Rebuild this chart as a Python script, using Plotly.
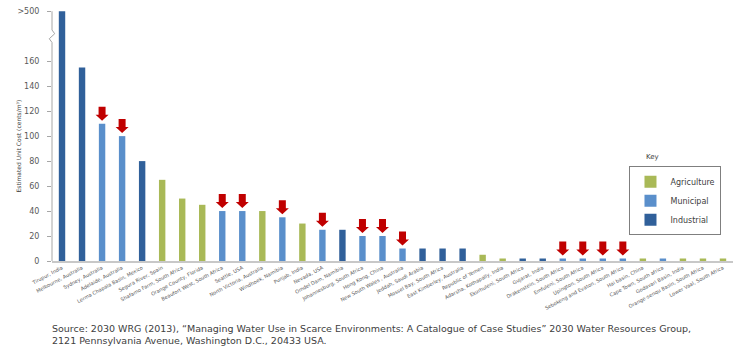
import plotly.graph_objects as go

# ---------------- data ----------------
categories = [
    "Tirupur, India", "Melbourne, Australia", "Sydney, Australia", "Adelaide, Australia",
    "Lerma Chapala Basin, Mexico", "Segura River, Spain", "Shafamo Farm, South Africa",
    "Orange County, Florida", "Beaufort West, South Africa", "Seattle, USA",
    "North Victoria, Australia", "Windhoek, Namibia", "Punjab, India", "Nevada, USA",
    "Omdel Dam, Namibia", "Johannesburg, South Africa", "Hong Kong, China",
    "New South Wales , Australia", "Jeddah, Saudi Arabia", "Mossel Bay, South Africa",
    "East Kimberley, Australia", "Republic of Yemen", "Adarsha, Kothapally, India",
    "Ekurhuleni, South Africa", "Gujarat, India", "Drakenstein, South Africa",
    "Emfuleni, South Africa", "Upington, South Africa", "Sebokeng and Evaton, South Africa",
    "Hai basin, China", "Cape Town, South africa", "Godavari Basin, India",
    "Orange-senqu Basin, South Africa", "Lower Vaal, South Africa",
]
values = [500, 155, 110, 100, 80, 65, 50, 45, 40, 40, 40, 35, 30, 25, 25, 20, 20,
          10, 10, 10, 10, 5, 2, 2, 2, 2, 2, 2, 2, 2, 2, 2, 2, 2]
sectors = ["Industrial", "Industrial", "Municipal", "Municipal", "Industrial",
           "Agriculture", "Agriculture", "Agriculture", "Municipal", "Municipal",
           "Agriculture", "Municipal", "Agriculture", "Municipal", "Industrial",
           "Municipal", "Municipal", "Municipal", "Industrial", "Industrial",
           "Industrial", "Agriculture", "Agriculture", "Industrial", "Industrial",
           "Municipal", "Municipal", "Municipal", "Municipal", "Agriculture",
           "Municipal", "Agriculture", "Agriculture", "Agriculture"]
flagged = ["Sydney, Australia", "Adelaide, Australia", "Beaufort West, South Africa",
           "Seattle, USA", "Windhoek, Namibia", "Nevada, USA",
           "Johannesburg, South Africa", "Hong Kong, China", "New South Wales , Australia",
           "Drakenstein, South Africa", "Emfuleni, South Africa", "Upington, South Africa",
           "Sebokeng and Evaton, South Africa"]
sector_order = ["Agriculture", "Municipal", "Industrial"]
y_ticks = [0, 20, 40, 60, 80, 100, 120, 140, 160]
break_label = ">500"

# ---------------- style ----------------
colors = {"Agriculture": "#a9b957", "Municipal": "#5a8fcb", "Industrial": "#30609a"}
FONT = "DejaVu Sans"
BREAK_AT = 200          # display position of the broken-axis top value
TEXT_GREY = "#595959"

def shown(v):
    return min(v, BREAK_AT)

fig = go.Figure()
for s in sector_order:
    xs = [c for c, sec in zip(categories, sectors) if sec == s]
    ys = [shown(v) for v, sec in zip(values, sectors) if sec == s]
    real = [v for v, sec in zip(values, sectors) if sec == s]
    fig.add_trace(go.Bar(
        x=xs, y=ys, name=s, marker_color=colors[s], marker_line_width=0,
        customdata=real, hovertemplate="%{x}: %{customdata}<extra>" + s + "</extra>",
    ))

# red down-arrows above flagged bars (pixel-sized, anchored at bar tops)
arrow_path = "M 0,3 L -6.5,9 L -3.5,9 L -3.5,17 L 3.5,17 L 3.5,9 L 6.5,9 Z"
shapes = []
for c, v in zip(categories, values):
    if c in flagged:
        shapes.append(dict(type="path", xref="x", yref="y", xsizemode="pixel",
                           ysizemode="pixel", xanchor=c, yanchor=shown(v),
                           path=arrow_path, fillcolor="#c00000", line_width=0))

# y-axis line with a break
shapes.append(dict(type="path", xref="paper", yref="y",
                   path="M 0,0 L 0,175 L -0.004,178 L 0.004,182 L 0,185 L 0,%d" % BREAK_AT,
                   line=dict(color="#a6a6a6", width=1)))

fig.update_layout(
    width=742, height=346,
    margin=dict(l=52, r=9, t=5, b=85),
    plot_bgcolor="white", paper_bgcolor="white",
    barmode="overlay", bargap=0.68,
    font=dict(family=FONT, color=TEXT_GREY),
    showlegend=True,
    legend=dict(x=0.848, y=0.37, xanchor="left", yanchor="top",
                bordercolor="#7f7f7f", borderwidth=1, bgcolor="white",
                font=dict(size=8, color="#404040", family=FONT),
                traceorder="normal"),
    shapes=shapes,
)
fig.update_xaxes(
    type="category", categoryorder="array", categoryarray=categories,
    tickmode="linear", dtick=1, tickangle=-28,
    tickfont=dict(size=5, color=TEXT_GREY), ticks="",
    showline=True, linecolor="#c8c8c8", linewidth=2, showgrid=False,
    range=[-0.5, len(categories) - 0.5],
)
fig.update_yaxes(
    range=[0, 205], tickmode="array",
    tickvals=y_ticks + [BREAK_AT],
    ticktext=[str(t) for t in y_ticks] + [break_label],
    ticks="outside", ticklen=4, tickcolor="#a6a6a6", ticklabelstandoff=6,
    tickfont=dict(size=8, color=TEXT_GREY),
    showline=False, showgrid=False, zeroline=False,
)

fig.add_annotation(text="Estimated Unit Cost (cents/m³)", textangle=-90,
                   xref="paper", yref="paper", x=-0.057, y=0.45,
                   showarrow=False, font=dict(size=6, color="#404040"))
fig.add_annotation(text="Key", xref="paper", yref="paper", x=0.87, y=0.382,
                   xanchor="left", yanchor="bottom", showarrow=False,
                   font=dict(size=7, color="#404040"))
fig.add_annotation(
    text="Source: 2030 WRG (2013), “Managing Water Use in Scarce Environments: A Catalogue of Case Studies” 2030 Water Resources Group,<br>2121 Pennsylvania Avenue, Washington D.C., 20433 USA.",
    xref="paper", yref="paper", x=-0.003, y=-0.235, xanchor="left", yanchor="top",
    align="left", showarrow=False, font=dict(size=9.5, color="#404040"))

fig.write_html("out.html")
